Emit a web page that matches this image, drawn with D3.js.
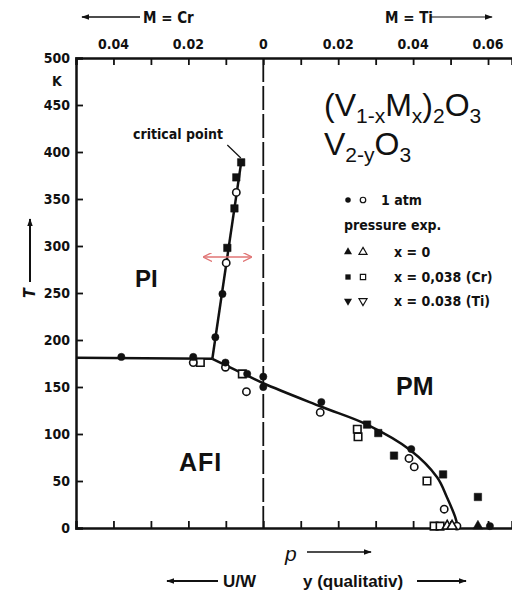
<!DOCTYPE html>
<html><head><meta charset="utf-8">
<script src="https://cdn.jsdelivr.net/npm/d3@7/dist/d3.min.js"></script>
<style>
body{margin:0;background:#fff;}
svg{display:block;}
.cond{font-family:"DejaVu Sans Condensed","Liberation Sans Narrow","DejaVu Sans",sans-serif;font-stretch:condensed;font-weight:bold;}
.arial{font-family:"Liberation Sans",Arial,sans-serif;}
</style></head><body>
<svg id="c" width="512" height="598"></svg>
<script>
// ---- data ----
const xTickValues = [-0.04,-0.03,-0.02,-0.01,0,0.01,0.02,0.03,0.04,0.05,0.06];
const xTickLabels = [[-0.04,"0.04"],[-0.02,"0.02"],[0,"0"],[0.02,"0.02"],[0.04,"0.04"],[0.06,"0.06"]];
const tTickValues = [0,50,100,150,200,250,300,350,400,450,500];

const lineAFI_PI = [[-0.05,181],[-0.0136,180]];
const linePI_PM = [[-0.0136,180],[-0.0059,389]];
const lineAFI_PM = [[-0.0136,180],[-0.0068,167],[0,154],[0.0155,129],[0.0277,110],[0.0392,83],[0.0464,54],[0.049,33],[0.0512,12],[0.052,0]];

const filledCircles = [[-0.0109,249],[-0.0128,203],[-0.0379,182],[-0.0187,182],[-0.0101,176],[-0.0043,164],[0,161],[0,150],[0.0155,134],[0.0395,84],[0.0605,2]];
const openCircles = [[-0.0072,357],[-0.0099,282],[-0.0187,176],[-0.0101,171],[-0.0045,145],[0.0152,123],[0.0389,74],[0.0403,65],[0.0483,20],[0.0517,2]];
const filledSquares = [[-0.0059,389],[-0.0072,373],[-0.0077,340],[-0.0096,298],[0.0277,110],[0.0307,101],[0.0349,77],[0.048,57],[0.0573,33]];
const openSquares = [[-0.0168,176],[-0.0056,164],[0.0251,105],[0.0253,97],[0.0437,50],[0.0456,2],[0.0472,2]];
const filledTriangles = [[0.0573,2]];
const openTriangles = [[0.0491,2],[0.0504,2]];

const legendRows = [
  {sym:"circle", text:"1 atm"},
  {sym:null, text:"pressure exp."},
  {sym:"triangle", text:"x = 0"},
  {sym:"square", text:"x = 0,038 (Cr)"},
  {sym:"down", text:"x = 0.038 (Ti)"}
];

// ---- drawing ----
const svg = d3.select("#c");
const ink = "#111";
const x = d3.scaleLinear().domain([-0.05, 0.0664]).range([76, 512]);
const y = d3.scaleLinear().domain([0, 500]).range([528, 58]);

const defs = svg.append("defs");
defs.append("marker").attr("id","ah").attr("viewBox","0 0 10 10").attr("refX",9).attr("refY",5)
  .attr("markerWidth",8).attr("markerHeight",8).attr("markerUnits","userSpaceOnUse").attr("orient","auto-start-reverse")
  .append("path").attr("d","M0,1.5 L10,5 L0,8.5 Z").attr("fill",ink);
defs.append("marker").attr("id","ahr").attr("viewBox","0 0 10 10").attr("refX",9).attr("refY",5)
  .attr("markerWidth",9).attr("markerHeight",9).attr("markerUnits","userSpaceOnUse").attr("orient","auto-start-reverse")
  .append("path").attr("d","M0,0 L10,5 L0,10").attr("fill","none").attr("stroke","#e07575").attr("stroke-width",1.5);

// axes
const topAxis = d3.axisTop(x).tickValues(xTickValues).tickSize(-7).tickFormat("");
const botAxis = d3.axisBottom(x).tickValues(xTickValues).tickSize(-7).tickFormat("");
const leftAxis = d3.axisLeft(y).tickValues(tTickValues.filter(d=>d>0 && d<500)).tickSize(-7).tickFormat("");
function styleAxis(g){ g.select(".domain").attr("stroke",ink).attr("stroke-width",2.5);
  g.selectAll(".tick line").attr("stroke",ink).attr("stroke-width",1.8); }
svg.append("g").attr("transform","translate(0,58)").call(topAxis).call(styleAxis);
svg.append("g").attr("transform","translate(0,528)").call(botAxis).call(styleAxis);
svg.append("g").attr("transform","translate(76,0)").call(leftAxis).call(styleAxis);

// tick labels
svg.append("g").selectAll("text").data(xTickLabels).join("text").attr("class","cond")
  .attr("x",d=>x(d[0])).attr("y",49).attr("text-anchor","middle").attr("font-size",14).attr("fill",ink).text(d=>d[1]);
svg.append("g").selectAll("text").data(tTickValues).join("text").attr("class","cond")
  .attr("x",70).attr("y",d=>y(d)+5).attr("text-anchor","end").attr("font-size",14).attr("fill",ink).text(d=>d);
svg.append("text").attr("class","cond").attr("x",57).attr("y",86).attr("font-size",14).attr("text-anchor","middle").attr("fill",ink).text("K");

// top arrows and M labels
svg.append("line").attr("x1",140).attr("y1",17).attr("x2",82).attr("y2",17).attr("stroke",ink).attr("stroke-width",1.5).attr("marker-end","url(#ah)");
svg.append("text").attr("class","cond").attr("x",143).attr("y",23).attr("font-size",15).attr("fill",ink).text("M = Cr");
svg.append("text").attr("class","cond").attr("x",385).attr("y",23).attr("font-size",15).attr("fill",ink).text("M = Ti");
svg.append("line").attr("x1",430).attr("y1",17).attr("x2",492).attr("y2",17).attr("stroke",ink).attr("stroke-width",1.2).attr("marker-end","url(#ah)");

// T label with arrow
svg.append("text").attr("class","cond").attr("transform","translate(35,293) rotate(-90)").attr("font-size",16).attr("font-style","italic").attr("text-anchor","middle").attr("fill",ink).text("T");
svg.append("line").attr("x1",30).attr("y1",282).attr("x2",30).attr("y2",219).attr("stroke",ink).attr("stroke-width",2).attr("marker-end","url(#ah)");

// dashed zero line
svg.append("line").attr("x1",x(0)).attr("x2",x(0)).attr("y1",58).attr("y2",528).attr("stroke",ink).attr("stroke-width",1.8).attr("stroke-dasharray","24,4");

// phase lines
const ln = d3.line().x(d=>x(d[0])).y(d=>y(d[1]));
const lnC = d3.line().x(d=>x(d[0])).y(d=>y(d[1])).curve(d3.curveCatmullRom.alpha(0.5));
[lineAFI_PI, linePI_PM].forEach(a=>svg.append("path").attr("d",ln(a)).attr("fill","none").attr("stroke",ink).attr("stroke-width",2.5));
svg.append("path").attr("d",lnC(lineAFI_PM)).attr("fill","none").attr("stroke",ink).attr("stroke-width",2.5);

// markers
function sym(type, size){
  if(type==="down") return d3.symbol().type(d3.symbolTriangle).size(size);
  const t = {circle:d3.symbolCircle, square:d3.symbolSquare, triangle:d3.symbolTriangle}[type];
  return d3.symbol().type(t).size(size);
}
function drawPts(data, type, filled){
  svg.append("g").selectAll("path").data(data).join("path")
    .attr("transform",d=>`translate(${x(d[0])},${y(d[1])})${type==="down"?" rotate(180)":""}`)
    .attr("d",sym(type, type==="circle"?42:type==="square"?56:44)())
    .attr("fill",filled?ink:"#fff").attr("stroke",ink).attr("stroke-width",filled?0.5:1.6);
}
drawPts(openSquares,"square",false);
drawPts(openCircles,"circle",false);
drawPts(openTriangles,"triangle",false);
drawPts(filledSquares,"square",true);
drawPts(filledCircles,"circle",true);
drawPts(filledTriangles,"triangle",true);

// critical point label
svg.append("line").attr("x1",x(-0.0096)).attr("y1",145).attr("x2",x(-0.006)).attr("y2",158).attr("stroke",ink).attr("stroke-width",1.2);
svg.append("text").attr("class","cond").attr("x",133).attr("y",139).attr("font-size",14).attr("fill",ink).text("critical point");

// red double arrow
svg.append("line").attr("x1",204).attr("x2",251).attr("y1",257).attr("y2",257).attr("stroke","#e07575").attr("stroke-width",1.5)
  .attr("marker-start","url(#ahr)").attr("marker-end","url(#ahr)");

// phase labels
svg.append("text").attr("class","arial").attr("x",135).attr("y",287).attr("font-size",24).attr("font-weight","bold").attr("fill",ink).text("PI");
svg.append("text").attr("class","arial").attr("x",396).attr("y",395).attr("font-size",25).attr("font-weight","bold").attr("fill",ink).text("PM");
svg.append("text").attr("class","arial").attr("x",179).attr("y",471).attr("font-size",25).attr("font-weight","bold").attr("letter-spacing",1).attr("fill",ink).text("AFI");

// formula title
const t1 = svg.append("text").attr("class","arial").attr("x",324).attr("y",116).attr("font-size",32).attr("fill",ink);
t1.append("tspan").text("(V");
t1.append("tspan").attr("font-size",21).attr("dy",7).text("1-x");
t1.append("tspan").attr("dy",-7).text("M");
t1.append("tspan").attr("font-size",21).attr("dy",7).text("x");
t1.append("tspan").attr("dy",-7).text(")");
t1.append("tspan").attr("font-size",21).attr("dy",7).text("2");
t1.append("tspan").attr("dy",-7).text("O");
t1.append("tspan").attr("font-size",21).attr("dy",7).text("3");
const t2 = svg.append("text").attr("class","arial").attr("x",324).attr("y",155).attr("font-size",32).attr("fill",ink);
t2.append("tspan").text("V");
t2.append("tspan").attr("font-size",21).attr("dy",7).text("2-y");
t2.append("tspan").attr("dy",-7).text("O");
t2.append("tspan").attr("font-size",21).attr("dy",7).text("3");

// legend
const legY = [200,225,252,277,301];
legendRows.forEach((r,i)=>{
  const yy = legY[i];
  if(r.sym){
    const s1 = sym(r.sym, r.sym==="square"?28:r.sym==="circle"?24:28)();
    const rot = r.sym==="down"?" rotate(180)":"";
    svg.append("path").attr("d",s1).attr("transform",`translate(348,${yy})${rot}`).attr("fill",ink);
    svg.append("path").attr("d",s1).attr("transform",`translate(363,${yy})${rot}`).attr("fill","#fff").attr("stroke",ink).attr("stroke-width",1.2);
    svg.append("text").attr("class","cond").attr("x",i===0?381:394).attr("y",yy+5).attr("font-size",14).attr("fill",ink).text(r.text);
  } else {
    svg.append("text").attr("class","cond").attr("x",344).attr("y",yy+5).attr("font-size",14).attr("fill",ink).text(r.text);
  }
});

// bottom labels
svg.append("text").attr("class","arial").attr("x",285).attr("y",561).attr("font-size",21).attr("font-style","italic").attr("fill",ink).text("p");
svg.append("line").attr("x1",307).attr("y1",552).attr("x2",371).attr("y2",552).attr("stroke",ink).attr("stroke-width",1.5).attr("marker-end","url(#ah)");
svg.append("line").attr("x1",218).attr("y1",581).attr("x2",167).attr("y2",581).attr("stroke",ink).attr("stroke-width",2).attr("marker-end","url(#ah)");
svg.append("text").attr("class","arial").attr("x",223).attr("y",587).attr("font-size",17).attr("font-weight","bold").attr("fill",ink).text("U/W");
svg.append("text").attr("class","arial").attr("x",303).attr("y",587).attr("font-size",17).attr("font-weight","bold").attr("fill",ink).text("y (qualitativ)");
svg.append("line").attr("x1",417).attr("y1",581).attr("x2",466).attr("y2",581).attr("stroke",ink).attr("stroke-width",2).attr("marker-end","url(#ah)");
</script>
</body></html>
